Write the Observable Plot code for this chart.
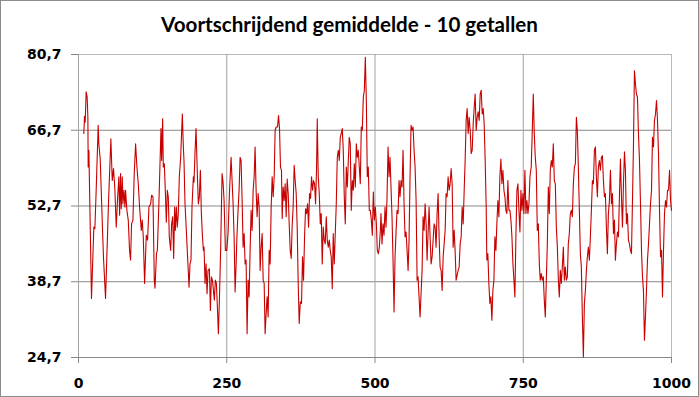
<!DOCTYPE html>
<html>
<head>
<meta charset="utf-8">
<script src="https://cdn.jsdelivr.net/npm/d3@7"></script>
<script src="https://cdn.jsdelivr.net/npm/@observablehq/plot@0.6"></script>
<style>
  html, body { margin: 0; padding: 0; background: #fff; }
  #wrap { position: relative; width: 699px; height: 397px; overflow: hidden; background: #fff; }
  #title { height: 36px; line-height: 48px; text-align: center; font-family: Lato, "Open Sans", sans-serif;
           font-weight: bold; font-size: 20.6px; color: #000; white-space: nowrap; overflow: visible; }
  #border { position: absolute; left: 0; top: 0; width: 699px; height: 397px; box-sizing: border-box;
            border: 1px solid #8c8c8c; pointer-events: none; }
  svg { display: block; }
</style>
</head>
<body>
<div id="wrap">
  <div id="title">Voortschrijdend gemiddelde - 10 getallen</div>
  <div id="chart"></div>
  <div id="border"></div>
</div>
<script>
const titleText = "Voortschrijdend gemiddelde - 10 getallen";
const xTicks = [0, 250, 500, 750, 1000];
const yTicks = [24.7, 38.7, 52.7, 66.7, 80.7];

const positions = [
9.0,10.1,11.3,12.9,14.6,15.8,16.3,17.5,21.9,25.9,27.6,29.8,33.2,34.3,36.6,41.1,42.2,45.6,49.5,50.7,
54.6,56.9,59.1,61.4,63.6,65.9,68.1,69.3,70.9,72.1,73.8,74.9,76.6,78.3,79.4,81.6,83.9,86.1,87.8,89.5,
91.8,94.0,96.3,98.5,100.8,103.0,105.9,107.5,109.2,111.5,114.3,116.5,118.8,121.6,123.3,125.6,127.8,129.0,131.5,133.0,
135.7,139.1,140.2,141.9,143.0,144.7,146.4,148.1,149.8,151.4,153.1,155.4,157.1,158.8,160.5,162.1,163.3,165.0,166.6,168.3,
170.0,172.3,175.1,176.8,177.9,179.6,181.3,186.4,188.0,189.7,191.4,193.7,194.8,196.5,198.2,200.4,202.1,203.8,205.5,207.2,
208.9,210.6,211.7,213.4,215.1,216.8,218.4,220.7,222.4,224.1,225.8,227.5,229.1,230.8,232.5,234.2,235.9,237.6,239.8,242.1,
243.8,245.5,247.7,250.0,252.2,254.5,257.3,259.0,260.7,262.4,264.1,265.8,267.4,269.1,270.8,272.5,274.2,275.9,277.6,279.3,
281.0,282.6,284.3,286.0,287.7,289.4,291.1,292.8,294.5,296.2,297.8,299.5,301.2,302.9,304.6,306.3,308.0,309.7,311.4,313.1,
314.7,316.4,318.1,319.8,321.5,323.2,324.9,326.6,328.3,330.0,331.6,333.3,335.6,337.3,339.0,340.6,342.3,343.5,345.1,346.8,
348.5,350.2,351.9,353.6,355.3,357.0,358.7,360.4,362.0,363.7,365.4,367.1,368.8,370.5,372.2,374.0,376.1,377.8,379.5,381.2,
382.9,384.6,386.3,388.0,389.6,391.3,393.0,394.7,396.4,398.1,399.8,401.5,402.6,404.3,406.0,407.7,409.3,411.0,412.7,414.4,
416.1,417.8,419.5,421.2,422.9,424.5,426.2,427.9,429.6,431.3,433.0,434.7,436.4,438.1,439.8,441.4,443.1,444.8,446.5,448.2,
449.9,451.6,453.3,455.0,456.6,458.3,460.0,461.7,463.4,465.1,466.8,468.5,470.2,471.8,473.5,475.2,476.9,478.6,480.3,482.0,
483.7,485.4,487.0,488.7,490.4,492.1,493.8,495.5,497.2,498.9,500.6,502.3,503.9,505.6,507.3,509.0,510.1,511.8,513.5,515.2,
516.9,518.6,520.3,522.0,523.7,525.3,527.0,528.7,530.4,532.1,533.8,535.5,537.2,538.9,540.6,542.2,543.9,545.6,547.3,549.0,
550.7,552.4,554.1,555.8,557.4,559.1,560.8,562.5,564.2,565.9,567.6,569.3,571.0,572.6,574.3,576.0,577.7,579.4,581.1,582.8,
584.5,586.2,587.8,589.5,591.2,592.9,594.6,596.3,598.0,599.7,601.4,603.0,604.7,606.4,608.1,609.8,611.5,613.2,614.9,616.6,
618.3,619.9,621.6,623.3,625.0,626.7,628.4,630.1,631.8,633.5,635.1,636.8,640.2,641.9,643.6,645.3,647.0,648.7,650.4,652.0,
653.7,655.4,657.1,658.8,660.5,662.2,663.9,665.6,667.3,668.9,670.6,672.3,674.0,675.7,677.4,679.1,680.8,682.5,684.1,685.8,
687.5,688.6,690.3,692.0,693.7,695.4,697.1,698.8,700.5,702.2,703.9,705.5,707.2,708.9,710.6,712.3,714.0,715.7,717.4,719.1,
720.7,722.4,724.1,725.8,727.5,729.2,730.9,732.6,734.3,735.9,737.6,739.3,741.0,742.7,744.4,746.1,747.8,749.5,751.1,752.8,
754.5,756.2,757.9,759.6,761.3,763.5,765.2,766.9,768.6,770.3,772.0,773.7,775.4,777.1,778.7,780.4,782.1,783.8,785.5,787.2,
788.9,790.6,792.3,794.0,795.6,797.3,799.0,800.7,802.4,804.1,805.8,807.5,809.2,810.8,812.5,814.2,815.9,817.6,819.3,821.0,
822.7,824.4,826.0,827.7,829.4,831.1,832.8,834.5,836.2,837.9,839.6,841.2,842.9,844.6,846.3,848.0,849.7,851.4,853.1,854.8,
856.5,858.1,859.8,861.5,863.2,864.9,866.6,868.3,870.0,871.7,873.3,875.0,876.7,878.4,880.1,881.8,883.5,885.2,886.9,888.5,
890.2,891.9,893.6,895.3,897.0,898.7,900.4,902.1,903.8,905.4,907.1,908.8,910.5,912.2,913.9,915.6,917.3,919.0,920.7,922.3,
924.0,925.7,927.4,929.1,930.8,932.5,934.2,935.9,937.5,939.2,940.9,942.6,944.3,946.0,947.7,949.4,951.1,952.7,954.4,956.1,
957.8,959.5,961.2,962.9,964.6,966.3,967.9,969.6,971.3,973.0,974.7,976.4,978.1,979.8,981.5,983.2,984.8,986.5,988.2,989.9,
991.6,993.3,995.0,996.7,998.4,1000
];

const values = [
66.1,69.3,68.2,73.8,72.8,69.1,59.9,63.0,35.6,48.8,48.5,55.6,67.6,64.2,61.4,46.4,43.0,35.6,49.4,53.7,
65.1,57.4,59.6,55.6,48.8,54.1,58.1,51.0,58.7,52.2,58.1,53.1,55.6,52.5,55.6,51.9,50.1,44.5,42.7,49.4,
50.1,58.7,64.2,59.9,56.8,52.5,48.2,50.1,47.0,38.4,47.3,46.4,52.5,53.1,54.7,54.4,39.0,37.5,43.9,44.5,
53.7,67.0,61.1,68.8,59.9,60.5,55.6,49.7,55.6,54.4,47.0,44.5,49.4,50.7,43.0,52.5,48.2,52.5,48.8,51.3,
58.1,61.7,69.7,63.6,61.1,53.1,49.4,37.7,42.0,42.7,52.5,58.1,57.1,62.7,67.0,58.7,53.1,54.4,59.3,51.3,
47.3,44.5,45.1,38.4,42.0,36.5,40.8,41.1,33.4,39.6,39.0,37.1,35.3,39.0,38.4,34.1,29.1,35.3,45.1,58.7,
57.1,53.7,44.5,44.5,47.6,55.0,61.7,57.4,53.1,47.0,36.8,42.0,47.6,51.9,55.6,61.7,61.1,53.7,45.1,47.6,
42.0,42.7,29.1,39.0,35.9,44.5,51.9,48.2,55.6,58.1,63.6,55.6,50.7,55.0,52.5,40.8,45.1,47.6,39.0,38.4,
29.1,32.8,35.9,32.2,44.5,42.0,52.5,58.1,54.4,58.1,66.7,67.3,67.3,69.4,67.0,59.9,59.3,50.4,56.2,53.7,
56.8,50.7,57.7,55.0,49.4,44.5,43.0,49.4,52.5,60.2,57.4,55.0,48.8,38.4,31.0,35.0,34.7,43.3,39.0,47.0,
52.2,51.3,53.1,48.8,55.0,54.1,58.1,55.6,57.4,56.8,53.1,59.9,68.8,58.1,55.0,49.4,51.3,42.0,48.8,46.4,
45.7,50.7,46.4,45.1,46.4,44.5,43.3,37.4,47.6,42.0,47.6,53.1,61.7,63.0,61.1,65.4,66.1,67.0,63.0,54.4,
49.4,59.9,56.2,61.1,65.4,64.2,51.9,57.4,55.6,60.5,56.2,64.2,61.7,63.0,59.9,56.8,67.3,66.7,72.8,74.1,
80.2,72.2,58.1,59.9,51.9,51.9,50.1,47.3,55.3,50.1,52.5,49.4,44.5,43.9,45.1,48.2,51.3,45.7,49.4,47.3,
52.5,48.8,54.4,63.6,58.1,61.7,56.2,50.7,42.7,33.1,43.3,47.9,51.9,51.3,57.4,54.4,57.4,56.2,63.0,53.1,
47.0,47.9,44.5,40.8,46.4,58.1,67.6,66.7,67.3,63.0,59.9,53.7,39.0,39.6,35.9,32.2,36.5,40.8,50.7,48.2,
53.1,49.4,42.7,47.6,52.5,47.0,42.0,43.3,46.4,49.4,48.8,45.1,51.3,55.0,47.0,41.4,40.8,37.1,43.3,45.7,
48.2,55.0,54.4,58.1,55.6,56.8,59.6,56.8,45.1,48.2,44.5,39.0,40.8,41.4,45.7,47.0,52.5,49.4,55.6,61.1,
68.5,70.7,66.1,69.1,66.7,62.4,63.0,67.9,71.0,73.4,66.7,69.1,70.1,68.5,73.4,74.1,69.7,70.7,67.9,61.1,
52.5,42.7,43.9,38.4,34.7,35.9,31.6,37.1,39.0,47.0,44.5,49.4,53.7,50.7,58.1,61.4,56.8,59.3,55.6,54.4,
51.9,51.3,57.4,51.9,51.9,50.1,47.0,42.0,39.0,35.9,47.0,55.6,56.8,51.9,47.9,55.6,51.9,55.0,51.3,59.3,
51.3,53.7,51.3,53.1,58.1,60.0,66.5,73.4,66.1,61.7,59.3,48.2,49.4,42.0,39.0,40.2,39.0,39.6,35.3,32.2,
39.0,45.7,56.2,51.3,59.3,61.1,59.9,64.2,57.4,56.8,48.8,45.1,39.0,35.9,40.8,38.4,41.4,45.1,39.0,41.4,
39.0,39.6,45.7,47.6,51.3,51.9,50.7,56.8,59.9,60.5,69.1,66.7,59.9,51.9,43.9,41.4,32.2,24.8,34.7,37.1,
40.8,43.3,45.1,42.7,47.0,51.9,57.4,56.8,63.0,63.6,58.1,54.4,59.9,61.1,59.3,61.7,62.0,57.4,54.4,55.0,
48.8,43.9,51.3,53.7,59.3,53.1,55.0,47.6,50.1,42.7,45.7,47.9,47.0,54.4,61.4,54.4,48.8,56.8,62.7,59.3,
49.4,51.3,46.4,45.7,44.5,43.9,53.7,64.2,77.7,75.3,73.4,72.8,66.1,61.1,53.1,44.5,39.6,37.1,27.9,32.2,
37.1,42.7,45.7,49.4,53.1,55.6,65.4,63.6,68.5,69.7,72.2,68.5,62.3,51.9,43.3,44.5,35.9,44.5,51.3,53.7,
52.5,55.6,55.6,59.3,53.7,51.9
];

const data = positions.map((x, i) => ({x, y: values[i]}));
const fmtY = d => d.toFixed(1).replace(".", ",");

const chart = Plot.plot({
  width: 699,
  height: 361,
  marginTop: 18,
  marginBottom: 40,
  marginLeft: 78,
  marginRight: 28,
  x: {domain: [0, 1000]},
  y: {domain: [24.7, 80.7]},
  style: {fontFamily: "'DejaVu Sans', sans-serif", fontSize: "14px", fontWeight: "bold", background: "transparent", color: "#000"},
  marks: [
    Plot.gridY([38.7, 52.7, 66.7], {stroke: "#878787", strokeOpacity: 1}),
    Plot.gridY([80.7], {stroke: "#b8b8b8", strokeOpacity: 1}),
    Plot.gridX([250, 500, 750], {stroke: "#a2a2a2", strokeOpacity: 1}),
    Plot.gridX([1000], {stroke: "#b8b8b8", strokeOpacity: 1}),
    Plot.ruleY([24.7], {stroke: "#878787"}),
    Plot.ruleX([0], {stroke: "#a2a2a2"}),
    Plot.axisY(yTicks, {tickSize: 7, tickPadding: 10, stroke: "#878787", fill: "#000", tickFormat: fmtY, label: null}),
    Plot.axisX(xTicks, {tickSize: 6, tickPadding: 15, stroke: "#878787", fill: "#000", tickFormat: d => String(d), label: null}),
    Plot.line(data, {x: "x", y: "y", stroke: "#c80000", strokeWidth: 1.1})
  ]
});
document.getElementById("title").textContent = titleText;
document.getElementById("chart").appendChild(chart);
</script>
</body>
</html>
